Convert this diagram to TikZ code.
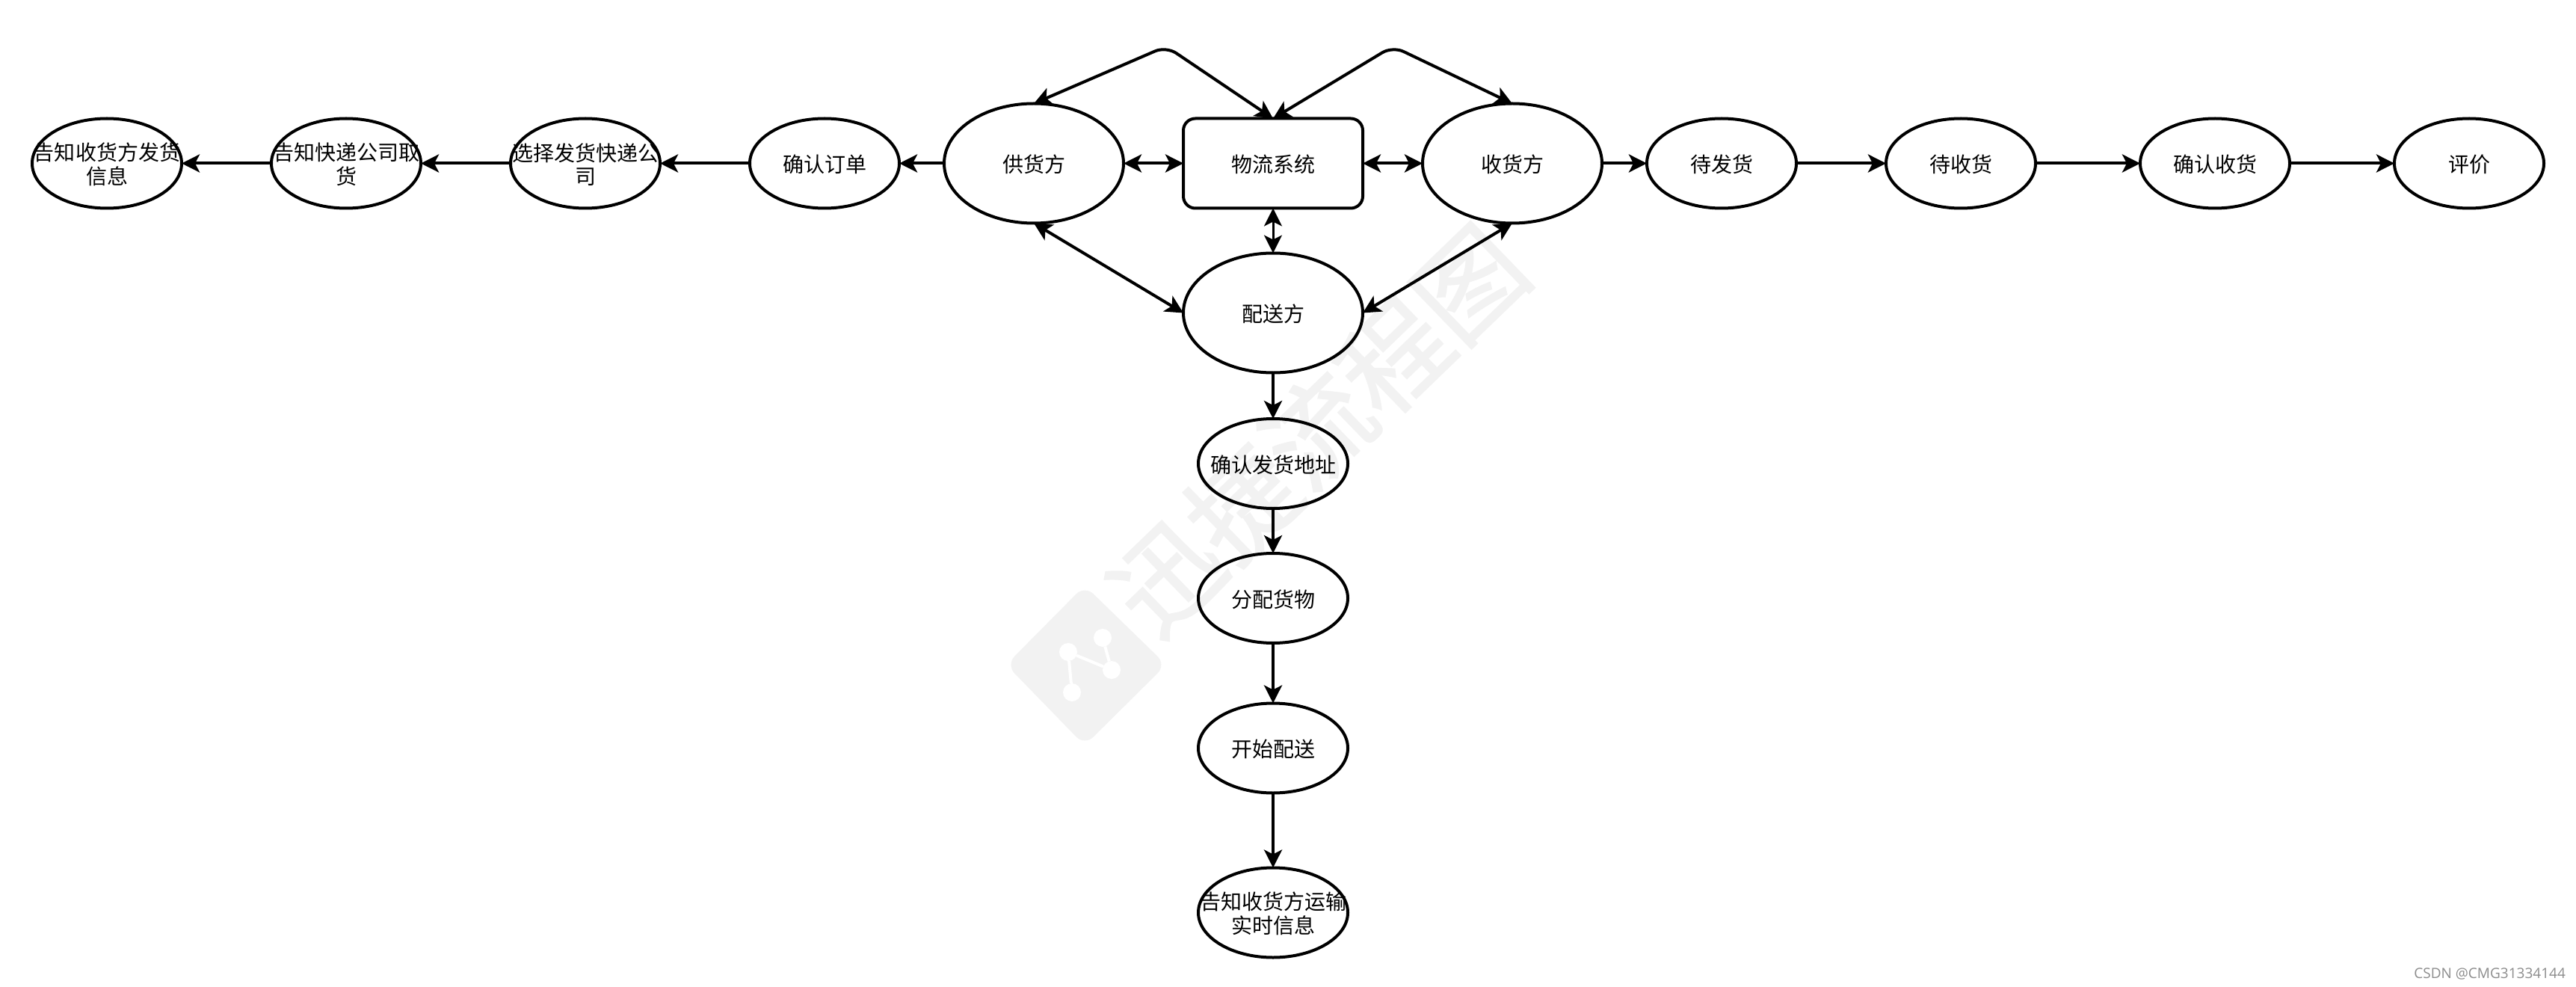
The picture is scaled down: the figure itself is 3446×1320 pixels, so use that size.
\documentclass[tikz,border=0pt]{standalone}
\usepackage{fontspec}
\setmainfont{Noto Sans CJK SC}
\newfontfamily\csdnfont{Open Sans}
\newfontfamily\wmfont[FakeBold=1.6]{Noto Sans CJK SC}
\usetikzlibrary{shapes.geometric,arrows.meta}
\definecolor{wm}{HTML}{F2F2F2}
\tikzset{
  x=1bp,y=-1bp,
  lab/.style={font=\fontsize{28bp}{31.5bp}\selectfont,align=center,inner sep=0pt,outer sep=0pt,yshift=-1.5bp},
  ell/.style={ellipse,draw=black,line width=4bp,inner sep=0pt,outer sep=0pt,minimum width=200bp,minimum height=120bp},
  big/.style={ell,minimum width=240bp,minimum height=160bp},
  sys/.style={rectangle,rounded corners=16bp,draw=black,line width=4bp,minimum width=240bp,minimum height=120bp,inner sep=0pt,outer sep=0pt},
  txt/.style={label={[lab]center:{#1}}},
  arr/.style={line width=4bp,-{Stealth[length=24bp,width=24bp,inset=6bp]}},
  dbl/.style={line width=4bp,{Stealth[length=24bp,width=24bp,inset=6bp]}-{Stealth[length=24bp,width=24bp,inset=6bp]}},
  thin dbl/.style={dbl,line width=3bp},
  wmtext/.style={text=wm,font=\wmfont\fontsize{141bp}{141bp}\selectfont,inner sep=0pt},
  wmdot/.style={circle,fill=white,minimum size=24bp,inner sep=0pt,outer sep=0pt},
}
\begin{document}
\begin{tikzpicture}
\useasboundingbox (0,0) rectangle (3446,1320);
\fill[white] (0,0) rectangle (3446,1320);
% watermark
\fill[wm,rounded corners=16bp] (1346,889) -- (1451,783) -- (1560,889) -- (1451,997) -- cycle;
\node[wmdot] (w1) at (1429,872) {};
\node[wmdot] (w2) at (1475,853) {};
\node[wmdot] (w3) at (1487,896) {};
\node[wmdot] (w4) at (1434,926) {};
\draw[white,line width=4bp] (w4) -- (w1) -- (w3) -- (w2);
\node[wmtext,rotate=44] (wmt) at (1763,575) {迅捷流程图};
% nodes
\node[ell,txt={告知收货方发货\\信息}] (n1) at (143,218.5) {};
\node[ell,txt={告知快递公司取\\货}] (n2) at (463,218.5) {};
\node[ell,txt={选择发货快递公\\司}] (n3) at (783,218.5) {};
\node[ell,txt={确认订单}] (n4) at (1103,218.5) {};
\node[big,txt={供货方}] (sup) at (1383,218.5) {};
\node[sys,txt={物流系统}] (log) at (1703,218.5) {};
\node[big,txt={收货方}] (rec) at (2023,218.5) {};
\node[big,txt={配送方}] (del) at (1703,418.5) {};
\node[ell,txt={待发货}] (r1) at (2303,218.5) {};
\node[ell,txt={待收货}] (r2) at (2623,218.5) {};
\node[ell,txt={确认收货}] (r3) at (2963,218.5) {};
\node[ell,txt={评价}] (r4) at (3303,218.5) {};
\node[ell,txt={确认发货地址}] (d1) at (1703,620) {};
\node[ell,txt={分配货物}] (d2) at (1703,800) {};
\node[ell,txt={开始配送}] (d3) at (1703,1000.5) {};
\node[ell,txt={告知收货方运输\\实时信息}] (d4) at (1703,1220.5) {};
\coordinate (peakL) at (1560,62);
\coordinate (peakR) at (1863,62);
% connectors
\draw[arr] (sup.west) -- (n4.east);
\draw[arr] (n4.west) -- (n3.east);
\draw[arr] (n3.west) -- (n2.east);
\draw[arr] (n2.west) -- (n1.east);
\draw[arr] (rec.east) -- (r1.west);
\draw[arr] (r1.east) -- (r2.west);
\draw[arr] (r2.east) -- (r3.west);
\draw[arr] (r3.east) -- (r4.west);
\draw[dbl] (sup.east) -- (log.west);
\draw[dbl] (log.east) -- (rec.west);
\draw[thin dbl] (log.south) -- (del.north);
\draw[dbl] (sup.south) -- (del.west);
\draw[dbl] (rec.south) -- (del.east);
\draw[dbl,rounded corners=16bp] (sup.north) -- (peakL) -- (log.north);
\draw[dbl,rounded corners=16bp] (log.north) -- (peakR) -- (rec.north);
\draw[arr] (del.south) -- (d1.north);
\draw[arr] (d1.south) -- (d2.north);
\draw[arr] (d2.south) -- (d3.north);
\draw[arr] (d3.south) -- (d4.north);
% credit
\node[anchor=east,text=black!45,font=\csdnfont\fontsize{19bp}{22bp}\selectfont,inner sep=0pt] (credit) at (3432,1302) {CSDN @CMG31334144};
\end{tikzpicture}
\end{document}
